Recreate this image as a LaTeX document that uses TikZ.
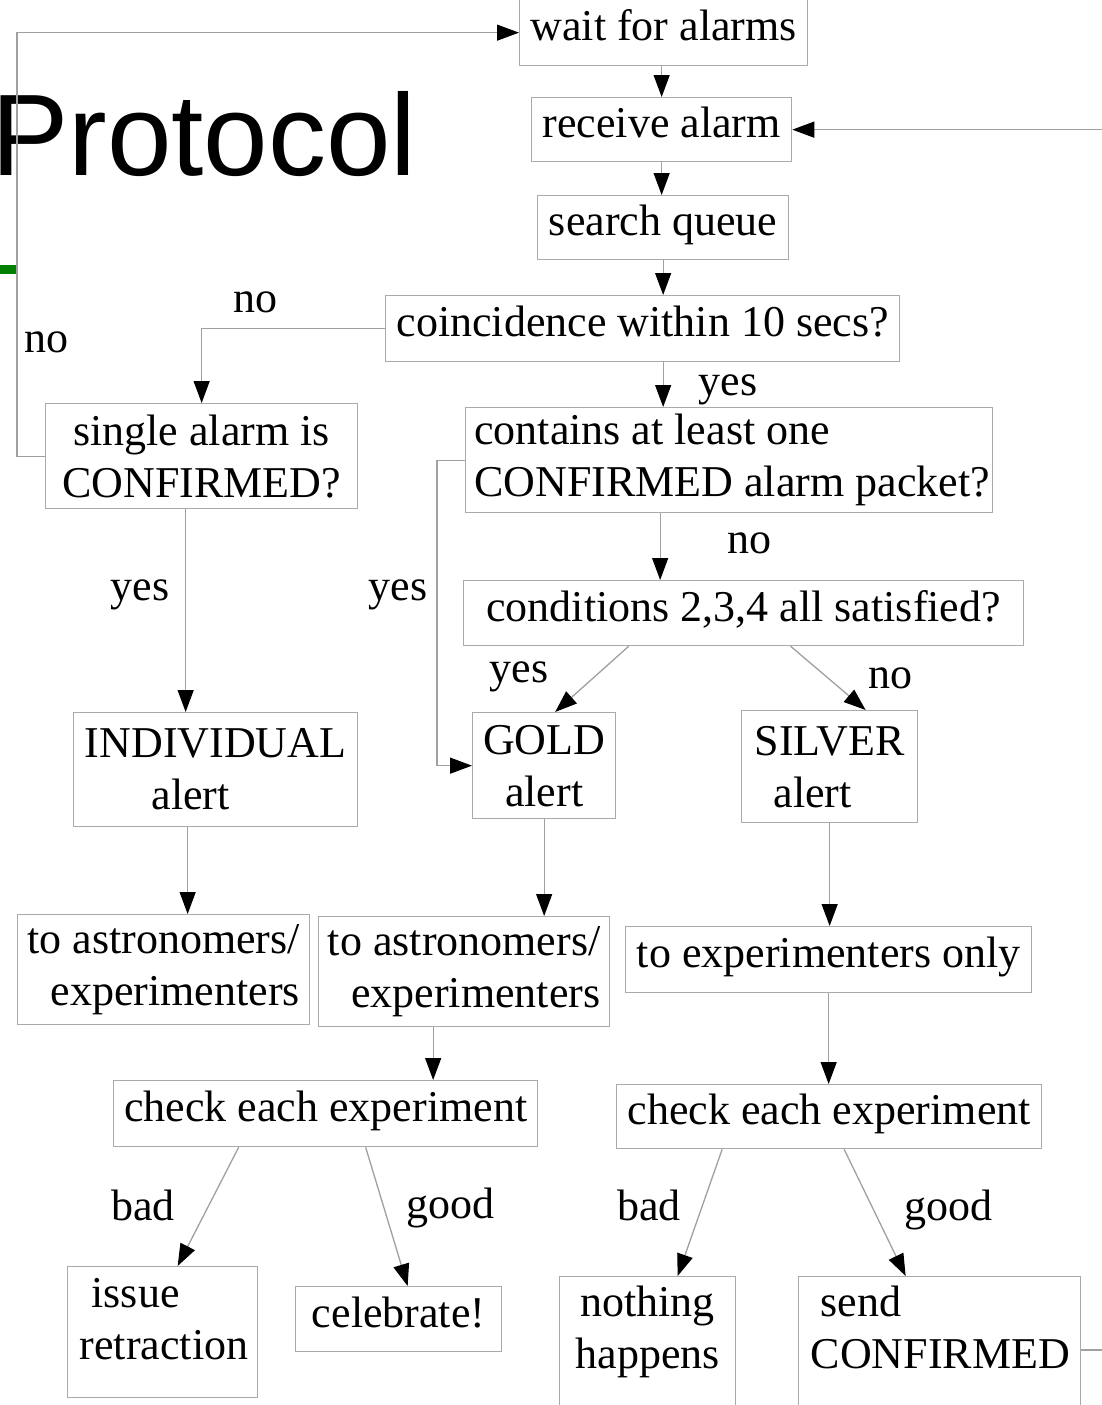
\documentclass[tikz,border=0pt]{standalone}
\usepackage{fontspec}
\setmainfont{Liberation Serif}
\newfontfamily\protofont{Liberation Sans}
\usetikzlibrary{arrows.meta}
\definecolor{boxgray}{RGB}{170,170,170}
\definecolor{linegray}{RGB}{160,160,160}
\definecolor{slidegreen}{RGB}{0,128,0}
\tikzset{
  flowbox/.style={draw=boxgray, line width=1.3pt, inner sep=0pt, anchor=north west,
    font=\fontsize{44}{52}\selectfont},
  oneline/.style={text height=30pt, text depth=14pt},
  conn/.style={draw=linegray, line width=1.3pt},
  arr/.style={conn, -{Triangle[length=22pt,width=16pt,color=black]}},
  lbl/.style={inner sep=0pt, anchor=base, font=\fontsize{44}{52}\selectfont},
}
\begin{document}
\begin{tikzpicture}[x=1pt,y=-1pt]
\useasboundingbox (0,0) rectangle (1102,1405);
\clip (0,0) rectangle (1102,1405);
\fill[white] (0,0) rectangle (1102,1405);

% title
\node[inner sep=0pt, anchor=base west, font=\protofont\fontsize{116}{130}\selectfont] (title) at (-9,175) {Protocol};
\fill[slidegreen] (0,265) rectangle (16,274);

% boxes
\node[flowbox, oneline, minimum width=288, minimum height=66] (wait) at (519,-1) {wait for alarms};
\node[flowbox, oneline, minimum width=260, minimum height=64] (receive) at (531,97) {receive alarm};
\node[flowbox, oneline, minimum width=251, minimum height=64] (search) at (537,195) {search queue};
\node[flowbox, oneline, minimum width=514, minimum height=66] (coinc) at (385,295) {coincidence within 10 secs?};
\node[flowbox, minimum width=312, minimum height=105, align=center] (single) at (45,403) {single alarm is\\CONFIRMED?};
\node[flowbox, minimum width=527, minimum height=105, align=left] (contains) at (465,407) {\hspace*{6pt}contains at least one\\\hspace*{6pt}CONFIRMED alarm packet?};
\node[flowbox, oneline, minimum width=560, minimum height=65] (cond) at (463,580) {conditions 2,3,4 all satisfied?};
\node[flowbox, minimum width=284, minimum height=114, align=center] (indiv) at (73,712) {INDIVIDUAL\\alert\hspace*{50pt}};
\node[flowbox, minimum width=143, minimum height=106, align=center] (gold) at (472,712) {GOLD\\alert};
\node[flowbox, minimum width=176, minimum height=112, align=center] (silver) at (741,710) {SILVER\\alert\hspace*{34pt}};
\node[flowbox, minimum width=292, minimum height=110, align=right] (astroL) at (17,914) {to astronomers/\\experimenters};
\node[flowbox, minimum width=291, minimum height=110, align=right] (astroM) at (318,916) {to astronomers/\\experimenters};
\node[flowbox, oneline, minimum width=406, minimum height=66] (exponly) at (625,926) {to experimenters only};
\node[flowbox, oneline, minimum width=424, minimum height=66] (checkL) at (113,1080) {check each experiment};
\node[flowbox, oneline, minimum width=425, minimum height=64] (checkR) at (616,1084) {check each experiment};
\node[flowbox, inner xsep=12pt, inner ysep=12pt] (issue) at (67,1266) {\parbox[t][107pt][t]{166pt}{\raggedright\hspace*{12pt}issue\\retraction}};
\node[flowbox, oneline, minimum width=206, minimum height=65] (celebrate) at (295,1286) {celebrate!};
\node[flowbox, inner xsep=0pt, inner ysep=9pt] (nothing) at (559,1276) {\parbox[t][160pt][t]{176pt}{\centering nothing\\happens}};
\node[flowbox, inner xsep=12pt, inner ysep=9pt] (send) at (798,1276) {\parbox[t][160pt][t]{258pt}{\raggedright\hspace*{10pt}send\\CONFIRMED}};

% connectors
\draw[arr] (single.west) -- ++(-28,0) |- (wait.west);
\draw[arr] (wait.south -| receive) -- (receive.north);
\draw[arr] (receive.south) -- (receive.south |- search.north);
\draw[arr] (search.south) -- (search.south |- coinc.north);
\draw[arr] (coinc.west) -- (single.north |- coinc.west) -- (single.north);
\draw[arr] (search.south |- coinc.south) -- (search.south |- contains.north);
\draw[arr] (contains.west) -- ++(-28,0) |- (gold.west);
\draw[arr] ([xshift=-3pt]search.south |- contains.south) -- ([xshift=-3pt]search.south |- cond.north);
\draw[arr] ([xshift=-115pt]cond.south) -- ([xshift=11pt]gold.north);
\draw[arr] ([xshift=47pt]cond.south) -- ([xshift=36pt]silver.north);
\draw[arr] ([xshift=-16pt]single.south) -- ([xshift=-16pt]single.south |- indiv.north);
\draw[arr] ([xshift=-28pt]indiv.south) -- ([xshift=-28pt]indiv.south |- astroL.north);
\draw[arr] (gold.south) -- (gold.south |- astroM.north);
\draw[arr] (silver.south) -- (silver.south |- exponly.north);
\draw[arr] ([xshift=-31pt]astroM.south) -- ([xshift=-31pt]astroM.south |- checkL.north);
\draw[arr] (exponly.south) -- (exponly.south |- checkR.north);
\draw[arr] ([xshift=-87pt]checkL.south) -- ([xshift=15pt]issue.north);
\draw[arr] ([xshift=40pt]checkL.south) -- ([xshift=9pt]celebrate.north);
\draw[arr] ([xshift=-107pt]checkR.south) -- ([xshift=30pt]nothing.north);
\draw[arr] ([xshift=15pt]checkR.south) -- ([xshift=-34pt]send.north);
\draw[arr] ([yshift=-74pt]send.north east) -- ++(60,0) |- (receive.east);

% labels
\node[lbl] (lno1) at (46,352) {no};
\node[lbl] (lno2) at (255,312) {no};
\node[lbl] (lyes1) at (728,395) {yes};
\node[lbl] (lno3) at (749,553) {no};
\node[lbl] (lyes2) at (398,600) {yes};
\node[lbl] (lyes3) at (140,600) {yes};
\node[lbl] (lyes4) at (519,682) {yes};
\node[lbl] (lno4) at (890,688) {no};
\node[lbl] (lbad1) at (143,1220) {bad};
\node[lbl] (lgood1) at (450,1218) {good};
\node[lbl] (lbad2) at (649,1220) {bad};
\node[lbl] (lgood2) at (948,1220) {good};
\end{tikzpicture}
\end{document}
